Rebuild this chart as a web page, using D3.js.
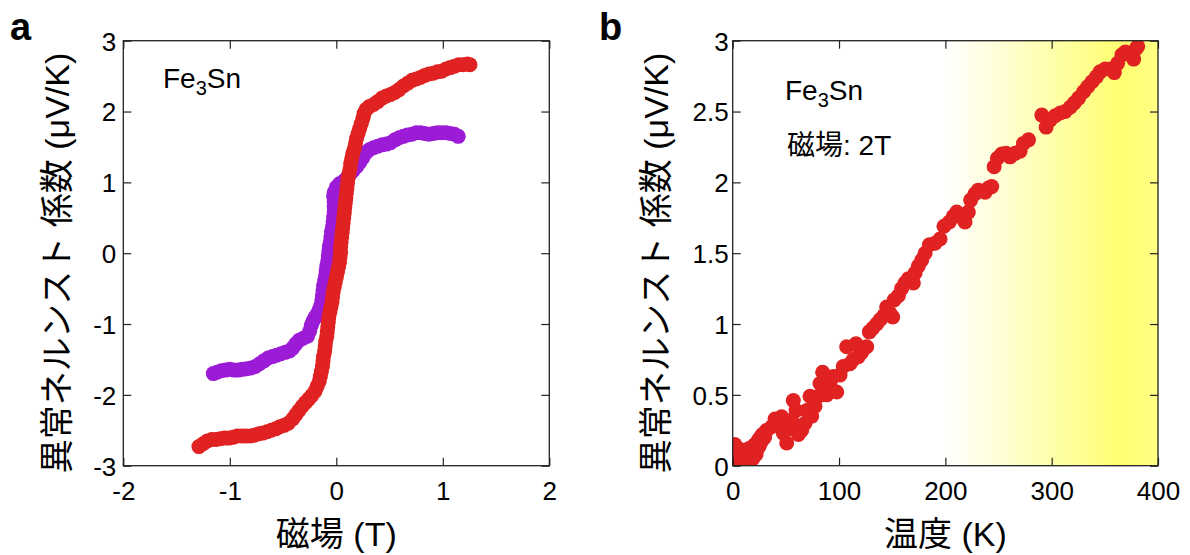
<!DOCTYPE html>
<html>
<head>
<meta charset="utf-8">
<script src="https://cdn.jsdelivr.net/npm/d3@7"></script>
<style>
  html, body { margin: 0; padding: 0; background: #fff; }
  svg { display: block; }
  text { font-family: "Liberation Sans", Arial, "Noto Sans CJK JP", sans-serif; fill: #000; }
</style>
</head>
<body>
<svg id="chart" width="1190" height="555"></svg>
<script>
// ---------------- DATA ----------------
// Panel a: anomalous Nernst coefficient vs magnetic field
const fieldTicksA = [-2, -1, 0, 1, 2];
const nernstTicksA = [-3, -2, -1, 0, 1, 2, 3];

const redSeriesA = [
  [-1.29,-2.73],[-1.25,-2.69],[-1.21,-2.65],[-1.17,-2.63],[-1.13,-2.63],[-1.09,-2.62],
  [-1.05,-2.61],[-1.01,-2.61],[-0.97,-2.60],[-0.93,-2.58],[-0.89,-2.58],[-0.85,-2.58],
  [-0.81,-2.58],[-0.77,-2.57],[-0.73,-2.55],[-0.69,-2.54],[-0.65,-2.52],[-0.61,-2.50],
  [-0.57,-2.48],[-0.53,-2.45],[-0.49,-2.43],[-0.45,-2.40],[-0.41,-2.34],[-0.38,-2.28],
  [-0.35,-2.22],[-0.32,-2.16],[-0.29,-2.11],[-0.26,-2.06],[-0.23,-2.01],[-0.20,-1.95],
  [-0.18,-1.88],[-0.16,-1.81],[-0.15,-1.74],[-0.14,-1.67],[-0.13,-1.60],[-0.125,-1.53],
  [-0.12,-1.46],[-0.11,-1.39],[-0.105,-1.32],[-0.10,-1.25],[-0.09,-1.18],[-0.085,-1.11],
  [-0.08,-1.04],[-0.075,-0.97],[-0.07,-0.90],[-0.06,-0.83],[-0.05,-0.76],[-0.04,-0.69],
  [-0.035,-0.62],[-0.03,-0.55],[-0.02,-0.48],[-0.01,-0.41],[0.00,-0.34],[0.01,-0.27],
  [0.02,-0.20],[0.03,-0.13],[0.035,-0.06],[0.04,0.01],[0.04,0.08],[0.045,0.15],
  [0.05,0.22],[0.055,0.29],[0.06,0.36],[0.065,0.43],[0.07,0.50],[0.075,0.57],
  [0.08,0.64],[0.085,0.71],[0.09,0.78],[0.095,0.85],[0.10,0.92],[0.105,0.99],
  [0.11,1.06],[0.12,1.13],[0.13,1.20],[0.135,1.27],[0.145,1.34],[0.155,1.41],
  [0.17,1.48],[0.18,1.55],[0.19,1.62],[0.205,1.69],[0.22,1.76],[0.235,1.83],
  [0.25,1.90],[0.26,1.97],[0.28,2.03],[0.31,2.07],[0.35,2.10],[0.39,2.14],
  [0.43,2.19],[0.47,2.22],[0.51,2.24],[0.55,2.27],[0.59,2.31],[0.63,2.36],
  [0.67,2.40],[0.71,2.44],[0.75,2.46],[0.79,2.48],[0.83,2.51],[0.87,2.53],
  [0.91,2.54],[0.95,2.56],[0.99,2.57],[1.03,2.60],[1.07,2.62],[1.11,2.64],
  [1.15,2.66],[1.19,2.66],[1.23,2.67],[1.255,2.66]
];

const purpleSeriesA = [
  [-1.155,-1.70],[-1.12,-1.68],[-1.08,-1.66],[-1.04,-1.65],[-1.00,-1.64],[-0.96,-1.65],
  [-0.92,-1.65],[-0.88,-1.64],[-0.84,-1.63],[-0.80,-1.62],[-0.76,-1.60],[-0.72,-1.56],
  [-0.68,-1.52],[-0.64,-1.48],[-0.60,-1.46],[-0.56,-1.44],[-0.52,-1.42],[-0.48,-1.40],
  [-0.44,-1.38],[-0.41,-1.34],[-0.38,-1.28],[-0.35,-1.23],[-0.31,-1.20],[-0.27,-1.17],
  [-0.25,-1.10],[-0.235,-1.02],[-0.22,-0.96],[-0.20,-0.91],[-0.18,-0.86],[-0.16,-0.80],
  [-0.145,-0.74],[-0.135,-0.67],[-0.13,-0.60],[-0.125,-0.53],[-0.12,-0.46],[-0.11,-0.39],
  [-0.10,-0.32],[-0.095,-0.25],[-0.09,-0.18],[-0.08,-0.11],[-0.075,-0.04],[-0.07,0.03],
  [-0.065,0.10],[-0.055,0.17],[-0.05,0.24],[-0.045,0.31],[-0.035,0.38],[-0.03,0.45],
  [-0.025,0.52],[-0.02,0.59],[-0.02,0.66],[-0.02,0.73],[-0.025,0.80],[-0.02,0.86],
  [0.00,0.93],[0.03,0.98],[0.07,1.02],[0.10,1.06],[0.13,1.12],[0.16,1.17],
  [0.19,1.22],[0.22,1.28],[0.25,1.35],[0.28,1.42],[0.31,1.46],[0.35,1.49],
  [0.39,1.51],[0.43,1.53],[0.47,1.54],[0.51,1.56],[0.55,1.60],[0.59,1.63],
  [0.63,1.65],[0.67,1.67],[0.71,1.68],[0.75,1.70],[0.79,1.70],[0.83,1.69],
  [0.87,1.68],[0.91,1.69],[0.95,1.70],[0.99,1.70],[1.03,1.70],[1.07,1.69],
  [1.11,1.68],[1.145,1.65]
];

// Panel b: anomalous Nernst coefficient vs temperature at 2 T
const tempTicksB = [0, 100, 200, 300, 400];
const nernstTicksB = [0, 0.5, 1, 1.5, 2, 2.5, 3];

const redSeriesB = [
  [1,0.10],[2,0.15],[3,0.05],[4,0.12],[5,0.02],[6,0.08],[7,0.00],[8,0.05],[9,0.11],
  [10,0.01],[11,0.04],[12,0.09],[13,0.02],[14,0.06],[15,0.12],[16,0.03],[17,0.07],
  [18,0.13],[19,0.05],[20,0.09],[21,0.15],[22,0.08],[23,0.12],[24,0.18],[25,0.14],
  [26,0.20],[27,0.17],[28,0.22],[30,0.20],[31,0.24],
  [32,0.25],[36.7,0.275],[39.8,0.33],[43,0.30],[46,0.345],[47.6,0.23],[50.8,0.16],
  [52.3,0.26],[55.5,0.32],[57,0.46],[59.6,0.39],[61.8,0.22],[64.9,0.25],[68,0.30],
  [69.6,0.39],[72.7,0.49],[74.3,0.35],[77.4,0.42],[80.6,0.49],[82.1,0.58],[84.6,0.66],
  [85.9,0.60],[88.4,0.50],[91.5,0.58],[94.7,0.63],[97.8,0.52],[101,0.64],[104,0.70],
  [107.2,0.84],[110.3,0.72],[113.5,0.75],[116,0.86],[118.2,0.77],[121.3,0.80],
  [126,0.84],[128.5,0.945],[131.7,0.97],[135.4,1.0],[138.6,1.03],[142.3,1.06],
  [144.8,1.12],[148,1.075],[150.5,1.05],[151.8,1.17],[155.8,1.20],[158.9,1.25],
  [162,1.29],[165.2,1.32],[169.9,1.29],[171.5,1.36],[174.6,1.41],[177.7,1.45],
  [180.9,1.50],[185,1.56],[190.3,1.57],[195,1.60],[198.7,1.69],[203.7,1.72],
  [207.5,1.76],[210.7,1.79],[213.8,1.76],[218.5,1.72],[221.6,1.79],[223.8,1.875],
  [227.9,1.92],[231,1.945],[237.4,1.93],[240.5,1.96],[243.6,1.97],[245.9,2.11],
  [249,2.17],[253,2.20],[257.1,2.205],[260.9,2.18],[265.6,2.205],[270.3,2.22],
  [273.5,2.275],[278.2,2.30],[290.7,2.475],[294.8,2.39],[298.6,2.44],[303.3,2.47],
  [308,2.49],[312.7,2.50],[317.4,2.53],[321.2,2.56],[325.3,2.595],[330,2.64],
  [333.8,2.675],[337.9,2.71],[342,2.745],[345.5,2.78],[350.3,2.80],[355,2.80],
  [358.9,2.775],[362,2.84],[366.1,2.90],[369.3,2.92],[377.1,2.87],[379.6,2.945],
  [380.9,2.96]
];

// ---------------- DRAW ----------------
const RED = "#e02222", PURPLE = "#9b1bd6";
const svg = d3.select("#chart");
svg.append("rect").attr("width", 1190).attr("height", 555).attr("fill", "#fff");

function panel(opts) {
  const { x0, x1, y0, y1, xDomain, yDomain, id } = opts;
  const x = d3.scaleLinear().domain(xDomain).range([x0, x1]);
  const y = d3.scaleLinear().domain(yDomain).range([y1, y0]);
  const g = svg.append("g");
  g.append("clipPath").attr("id", id).append("rect")
    .attr("x", x0).attr("y", y0).attr("width", x1 - x0).attr("height", y1 - y0);
  return { x, y, g };
}

function frame(p, opts) {
  const { x, y, g } = p;
  const [x0, x1] = x.range(); const [y1, y0] = y.range();
  const tick = 8;
  const fmt = d => String(d);
  const bottom = g.append("g").attr("transform", `translate(0,${y1})`)
    .call(d3.axisBottom(x).tickValues(opts.xTicks).tickSize(-tick).tickPadding(16).tickFormat(fmt));
  const top = g.append("g").attr("transform", `translate(0,${y0})`)
    .call(d3.axisTop(x).tickValues(opts.xTicks).tickSize(-tick).tickFormat(""));
  const left = g.append("g").attr("transform", `translate(${x0},0)`)
    .call(d3.axisLeft(y).tickValues(opts.yTicks).tickSize(-tick).tickPadding(opts.yPad).tickFormat(fmt));
  const right = g.append("g").attr("transform", `translate(${x1},0)`)
    .call(d3.axisRight(y).tickValues(opts.yTicks).tickSize(-tick).tickFormat(""));
  [bottom, top, left, right].forEach(a => {
    a.select(".domain").remove();
    a.selectAll(".tick line").attr("stroke", "#222").attr("stroke-width", 1.2);
    a.selectAll("text").attr("font-size", 26).attr("fill", "#000")
      .attr("font-family", '"Liberation Sans", Arial, sans-serif');
  });
  left.selectAll("text").attr("dy", "0.36em");
  g.append("rect").attr("x", x0).attr("y", y0).attr("width", x1 - x0).attr("height", y1 - y0)
    .attr("fill", "none").attr("stroke", "#222").attr("stroke-width", 1.3);
}

// ---- Panel a ----
const pa = panel({ x0: 123.3, x1: 549.3, y0: 40.7, y1: 465.7, xDomain: [-2, 2], yDomain: [-3, 3], id: "clipA" });
const dotsA = pa.g.append("g").attr("clip-path", "url(#clipA)");
dotsA.selectAll("circle.p").data(purpleSeriesA).join("circle").attr("class", "p")
  .attr("cx", d => pa.x(d[0])).attr("cy", d => pa.y(d[1])).attr("r", 7.5).attr("fill", PURPLE);
dotsA.selectAll("circle.r").data(redSeriesA).join("circle").attr("class", "r")
  .attr("cx", d => pa.x(d[0])).attr("cy", d => pa.y(d[1])).attr("r", 7.5).attr("fill", RED);
frame(pa, { xTicks: fieldTicksA, yTicks: nernstTicksA, yPad: 7 });

// ---- Panel b ----
const pb = panel({ x0: 732.7, x1: 1158, y0: 40.7, y1: 465.7, xDomain: [0, 400], yDomain: [0, 3], id: "clipB" });
const defs = svg.append("defs");
const grad = defs.append("linearGradient").attr("id", "yellowGrad")
  .attr("gradientUnits", "userSpaceOnUse")
  .attr("x1", pb.x(200)).attr("x2", pb.x(400)).attr("y1", 0).attr("y2", 0);
[[0, "#ffffff"], [0.2, "#fffee0"], [0.45, "#ffffb4"], [0.65, "#ffff90"], [0.82, "#ffff72"], [1, "#ffff84"]]
  .forEach(([o, c]) => grad.append("stop").attr("offset", o).attr("stop-color", c));
pb.g.append("rect").attr("x", pb.x(200)).attr("y", pb.y(3))
  .attr("width", pb.x(400) - pb.x(200)).attr("height", pb.y(0) - pb.y(3)).attr("fill", "url(#yellowGrad)");
const dotsB = pb.g.append("g").attr("clip-path", "url(#clipB)");
dotsB.selectAll("circle").data(redSeriesB).join("circle")
  .attr("cx", d => pb.x(d[0])).attr("cy", d => pb.y(d[1])).attr("r", 7.5).attr("fill", RED);
frame(pb, { xTicks: tempTicksB, yTicks: nernstTicksB, yPad: 4 });

// ---- Text ----
const ylabel = "異常ネルンスト 係数 (μV/K)";
function yTitle(cx, cy) {
  svg.append("text").attr("transform", `translate(${cx},${cy}) rotate(-90)`)
    .attr("text-anchor", "middle").attr("dominant-baseline", "central")
    .attr("font-size", 34).text(ylabel);
}
yTitle(57, 263);
yTitle(656, 263);

svg.append("text").attr("x", (123.3 + 549.3) / 2).attr("y", 546).attr("text-anchor", "middle")
  .attr("font-size", 34).text("磁場 (T)");
svg.append("text").attr("x", (732.7 + 1158) / 2).attr("y", 546).attr("text-anchor", "middle")
  .attr("font-size", 34).text("温度 (K)");

svg.append("text").attr("x", 10).attr("y", 40).attr("font-size", 38).attr("font-weight", "bold").text("a");
svg.append("text").attr("x", 599).attr("y", 40).attr("font-size", 38).attr("font-weight", "bold").text("b");

function fe3sn(x, y) {
  const t = svg.append("text").attr("x", x).attr("y", y).attr("font-size", 28);
  t.append("tspan").text("Fe");
  t.append("tspan").attr("font-size", 20).attr("dy", 7).text("3");
  t.append("tspan").attr("dy", -7).text("Sn");
}
fe3sn(163, 88);
fe3sn(785, 100);
svg.append("text").attr("x", 787).attr("y", 155).attr("font-size", 28).text("磁場: 2T");
</script>
</body>
</html>
